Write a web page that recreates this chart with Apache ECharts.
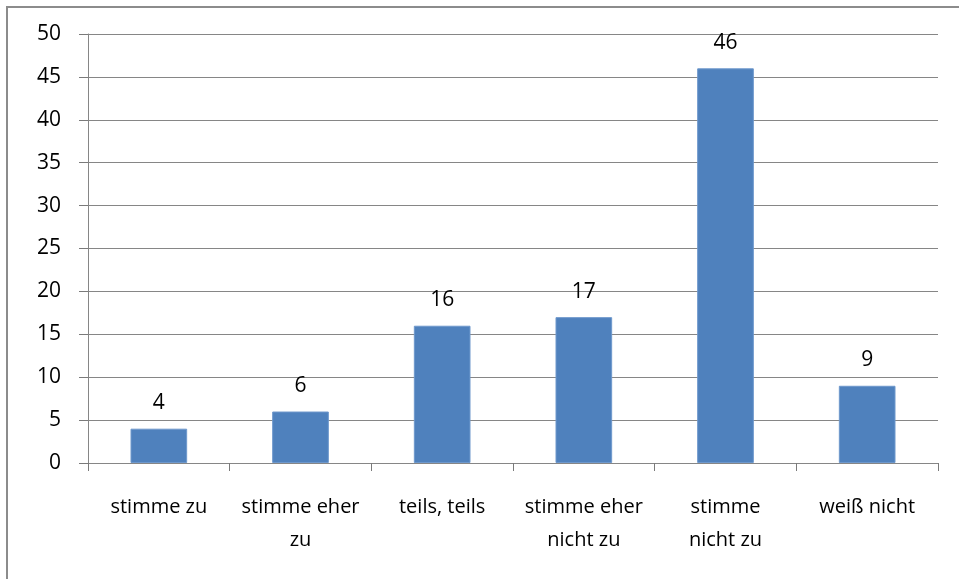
<!DOCTYPE html>
<html>
<head>
<meta charset="utf-8">
<script src="https://cdn.jsdelivr.net/npm/echarts@6/dist/echarts.min.js"></script>
<style>
html, body { margin: 0; padding: 0; background: #fff; }
#chart { width: 959px; height: 579px; }
</style>
</head>
<body>
<div id="chart"></div>
<script>
var categories = ['stimme zu', 'stimme eher\nzu', 'teils, teils', 'stimme eher\nnicht zu', 'stimme\nnicht zu', 'weiß nicht'];
var values = [4, 6, 16, 17, 46, 9];
var yTicks = [0, 5, 10, 15, 20, 25, 30, 35, 40, 45, 50];

var chart = echarts.init(document.getElementById('chart'));
var font = 'Open Sans';
var option = {
    animation: false,
    backgroundColor: '#fff',
    // outer frame, only left and top edges visible
    graphic: [{
        type: 'rect',
        shape: { x: 7, y: 7, width: 1000, height: 1000 },
        style: { fill: 'none', stroke: '#8c8c8c', lineWidth: 2 },
        silent: true
    }],
    grid: { left: 88, right: 21, top: 34, bottom: 116 },
    xAxis: {
        type: 'category',
        data: categories,
        axisLine: { lineStyle: { color: '#868686', width: 1 } },
        axisTick: { show: true, alignWithLabel: false, length: 8, lineStyle: { color: '#7a7a7a', width: 1 } },
        axisLabel: {
            color: '#000',
            fontFamily: font,
            fontSize: 20,
            lineHeight: 33,
            margin: 28,
            interval: 0
        }
    },
    yAxis: {
        type: 'value',
        min: yTicks[0],
        max: yTicks[yTicks.length - 1],
        interval: 5,
        axisLine: { show: true, lineStyle: { color: '#868686', width: 1 } },
        axisTick: { show: true, length: 9, lineStyle: { color: '#7a7a7a', width: 1 } },
        splitLine: { show: true, lineStyle: { color: '#868686', width: 1 } },
        axisLabel: { color: '#000', fontFamily: font, fontSize: 21, margin: 27 }
    },
    series: [{
        type: 'bar',
        data: values,
        barWidth: '40%',
        itemStyle: { color: '#4f81bd', borderColor: '#6e98cc', borderWidth: 1 },
        label: {
            show: true,
            position: 'top',
            distance: 15,
            color: '#000',
            fontFamily: font,
            fontSize: 21
        }
    }]
};
chart.setOption(option);
</script>
</body>
</html>
